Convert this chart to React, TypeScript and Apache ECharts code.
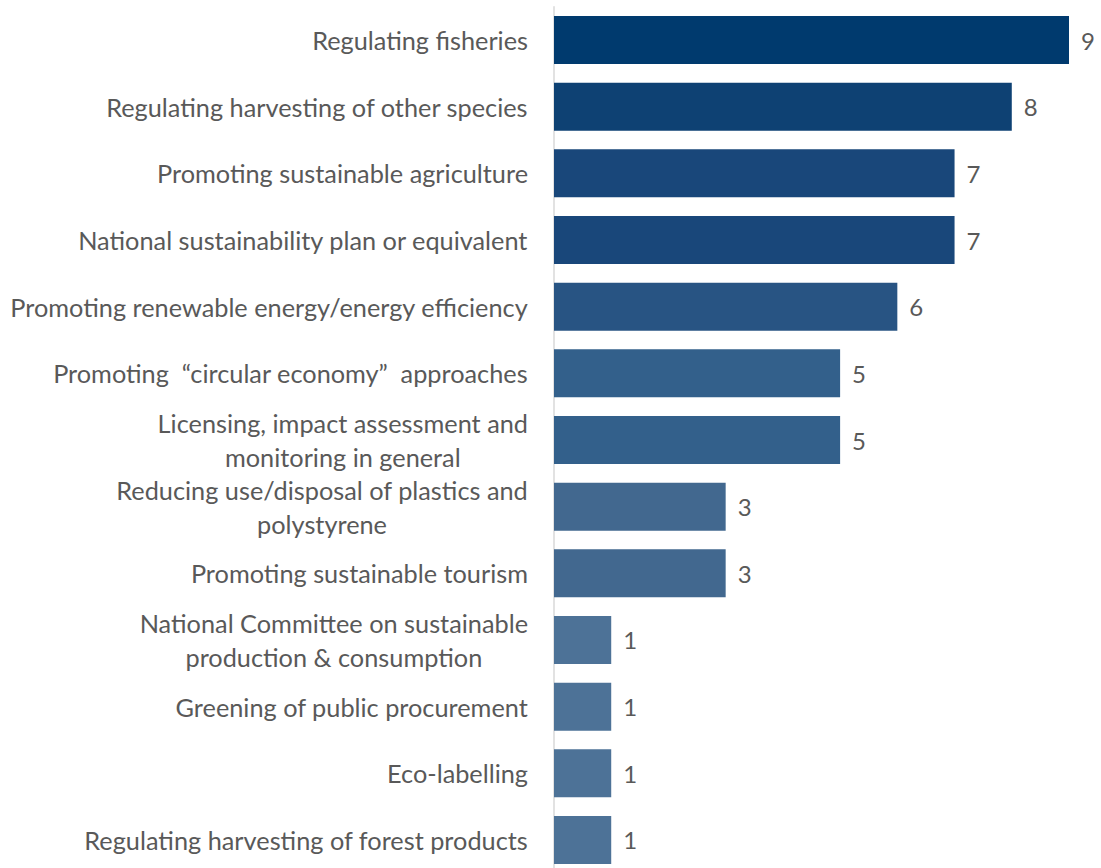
import React, { useEffect, useRef } from "react";
import * as echarts from "echarts";

const categories: string[] = [
  "Regulating fisheries",
  "Regulating harvesting of other species",
  "Promoting sustainable agriculture",
  "National sustainability plan or equivalent",
  "Promoting renewable energy/energy efficiency",
  "Promoting  \u201ccircular economy\u201d  approaches",
  "Licensing, impact assessment and\nmonitoring in general",
  "Reducing use/disposal of plastics and\npolystyrene",
  "Promoting sustainable tourism",
  "National Committee on sustainable\nproduction & consumption",
  "Greening of public procurement",
  "Eco-labelling",
  "Regulating harvesting of forest products",
];

const values: number[] = [9, 8, 7, 7, 6, 5, 5, 3, 3, 1, 1, 1, 1];

const barColors: string[] = [
  "#003a6e",
  "#0e4173",
  "#19477a",
  "#19477a",
  "#285483",
  "#33608b",
  "#33608b",
  "#42688f",
  "#42688f",
  "#4d7297",
  "#4d7297",
  "#4d7297",
  "#4d7297",
];

const FONT = "Lato";

export default function App() {
  const ref = useRef<HTMLDivElement>(null);
  useEffect(() => {
    if (!ref.current) return;
    const chart = echarts.init(ref.current, null, { renderer: "svg" });
    chart.setOption({
      animation: false,
      backgroundColor: "#ffffff",
      grid: { left: 554, right: 32, top: 6.67, bottom: 6.67, containLabel: false },
      xAxis: {
        type: "value",
        min: 0,
        max: 9,
        show: false,
        splitLine: { show: false },
      },
      yAxis: {
        type: "category",
        inverse: true,
        data: categories,
        axisLine: { show: true, lineStyle: { color: "#d9d9d9", width: 1.5 } },
        axisTick: { show: false },
        axisLabel: {
          margin: 26,
          align: "right",
          formatter: (v: string) =>
            v
              .split("\n")
              .map((l) => "{c|" + l + "}")
              .join("\n"),
          rich: {
            c: {
              align: "center",
              fontFamily: FONT,
              fontSize: 25.3,
              color: "#595959",
              lineHeight: 34,
            },
          },
        },
      },
      series: [
        {
          type: "bar",
          barWidth: 48,
          data: values.map((v, i) => ({ value: v, itemStyle: { color: barColors[i] } })),
          label: {
            show: true,
            position: "right",
            distance: 12,
            fontFamily: FONT,
            fontSize: 24,
            color: "#595959",
          },
        },
      ],
    });
    return () => chart.dispose();
  }, []);
  return (
    <div
      style={{
        position: "fixed",
        left: 0,
        top: 0,
        width: 1101,
        height: 868,
        overflow: "hidden",
        background: "#ffffff",
      }}
    >
      <div ref={ref} style={{ width: 1101, height: 880 }} />
    </div>
  );
}
